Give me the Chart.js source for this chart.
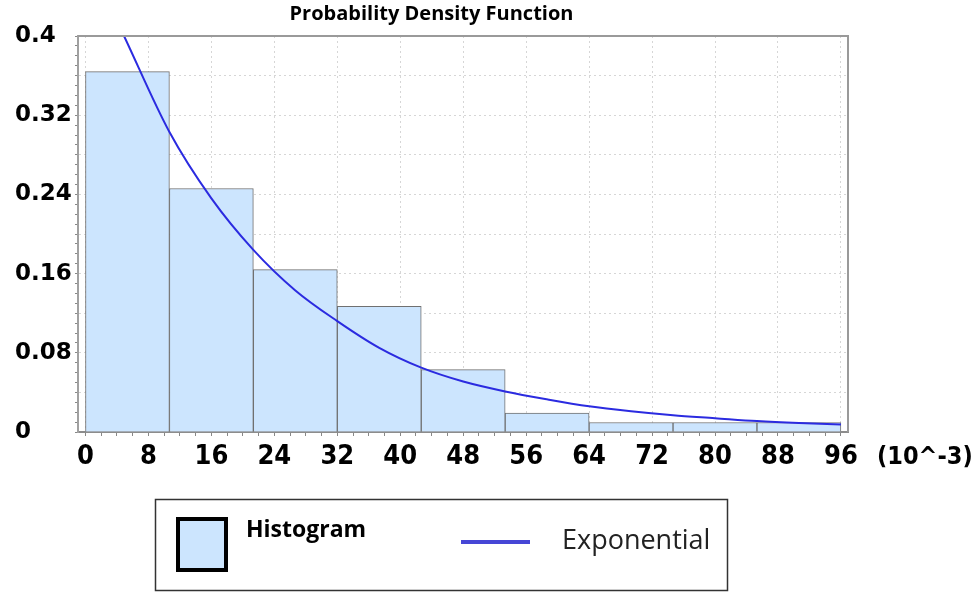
<!DOCTYPE html>
<html>
<head>
<meta charset="utf-8">
<title>Probability Density Function</title>
<script src="https://cdn.jsdelivr.net/npm/chart.js@4.4.0/dist/chart.umd.min.js"></script>
<style>
    html, body { margin: 0; padding: 0; background: #fff; }
    canvas { display: block; }
</style>
</head>
<body>
<canvas id="pdfChart" width="977" height="592"></canvas>
<script>
// histogram bins, x in units of 10^-3
var binEdges = [0, 10.67, 21.33, 32, 42.67, 53.33, 64, 74.67, 85.33, 96];
var binDensity = [0.364, 0.246, 0.164, 0.127, 0.063, 0.019, 0.0096, 0.0096, 0.0096];

// fitted exponential density, sampled along x
var curveX = [4.9, 10.67, 16, 21.33, 26.67, 32, 37.33, 42.67, 48, 53.33, 58.67, 64, 69.33, 74.67, 80, 85.33, 90.67, 96];
var curveY = [0.400, 0.303, 0.236, 0.184, 0.143, 0.112, 0.085, 0.065, 0.051, 0.041, 0.033, 0.026, 0.021, 0.017, 0.014, 0.011, 0.009, 0.0076];

var xTickLabels = [0, 8, 16, 24, 32, 40, 48, 56, 64, 72, 80, 88, 96];
var yTickLabels = [0, 0.08, 0.16, 0.24, 0.32, 0.4];
var xUnitLabel = '(10^-3)';

var histColor = '#cce5fe';
var curveColor = '#2b2be0';
var condensedFont = '"DejaVu Sans Condensed", "Liberation Sans Narrow", "DejaVu Sans"';

function isXLabel(v) {
    return xTickLabels.indexOf(v) >= 0;
}
function isYLabel(v) {
    return yTickLabels.some(function(t) { return Math.abs(t - v) < 1e-6 });
}
function isYGrid(v) {
    return Math.round(v * 100) % 4 === 0;
}

var histData = binDensity.map(function(d, i) {
    return { x: (binEdges[i] + binEdges[i + 1]) / 2, y: d };
});
var curveData = curveX.map(function(x, i) {
    return { x: x, y: curveY[i] };
});

// frame, unit label and the boxed legend under the plot
var extrasPlugin = {
    id: 'extras',
    afterDraw: function(chart) {
        var ctx = chart.ctx;
        var area = chart.chartArea;
        var xScale = chart.scales.x;
        ctx.save();

        ctx.strokeStyle = '#9a9a9a';
        ctx.lineWidth = 2;
        ctx.beginPath();
        ctx.moveTo(area.left, area.top);
        ctx.lineTo(area.right, area.top);
        ctx.lineTo(area.right, area.bottom);
        ctx.stroke();

        ctx.fillStyle = '#000';
        ctx.font = 'bold 25px ' + condensedFont;
        ctx.textAlign = 'left';
        ctx.textBaseline = 'middle';
        ctx.fillText(xUnitLabel, area.right + 29, xScale.top + 25);

        // legend box
        ctx.strokeStyle = '#333';
        ctx.lineWidth = 1.5;
        ctx.strokeRect(155.5, 499.5, 572, 91);

        var ds = chart.data.datasets;
        ctx.fillStyle = histColor;
        ctx.fillRect(178, 519, 48, 51);
        ctx.strokeStyle = '#000';
        ctx.lineWidth = 4;
        ctx.strokeRect(178, 519, 48, 51);
        ctx.fillStyle = '#000';
        ctx.font = 'bold 23px "Open Sans"';
        ctx.fillText(ds[1].label, 246, 530);

        ctx.strokeStyle = '#4646d6';
        ctx.lineWidth = 4;
        ctx.beginPath();
        ctx.moveTo(461, 542);
        ctx.lineTo(530, 542);
        ctx.stroke();
        ctx.fillStyle = '#222';
        ctx.font = '27px "Open Sans"';
        ctx.fillText(ds[0].label, 562, 541);

        ctx.restore();
    }
};

var pdfChart = new Chart(document.getElementById('pdfChart'), {
    type: 'bar',
    data: {
        datasets: [{
            type: 'line',
            label: 'Exponential',
            data: curveData,
            borderColor: curveColor,
            borderWidth: 2,
            pointRadius: 0,
            fill: false,
            cubicInterpolationMode: 'monotone',
            order: 0
        }, {
            type: 'bar',
            label: 'Histogram',
            data: histData,
            backgroundColor: histColor,
            borderColor: '#707070',
            borderWidth: 1,
            // width from neighbouring bin centres, so each bar fills its bin
            barThickness: 'flex',
            barPercentage: 1,
            categoryPercentage: 1,
            order: 1
        }]
    },
    options: {
        responsive: false,
        animation: false,
        layout: {
            padding: { left: 15, right: 129, top: 0, bottom: 110 }
        },
        plugins: {
            legend: { display: false },
            tooltip: { enabled: false },
            title: {
                display: true,
                text: 'Probability Density Function',
                color: '#000',
                font: { family: '"Open Sans"', size: 20, weight: 'bold' },
                padding: { top: 2, bottom: 10 }
            }
        },
        scales: {
            x: {
                type: 'linear',
                min: -0.95,
                max: 96.9,
                offset: false,
                afterBuildTicks: function(scale) {
                    var t = [];
                    for (var v = 0; v <= 96; v += 2) t.push({ value: v });
                    scale.ticks = t;
                },
                afterFit: function(scale) { scale.height = 50 },
                grid: {
                    offset: false,
                    color: function(c) { return c.tick && isXLabel(c.tick.value) ? '#d6d6d6' : 'rgba(0,0,0,0)' },
                    tickColor: '#888',
                    tickLength: 4
                },
                border: { color: '#8c8c8c', width: 2, dash: [2, 3] },
                ticks: {
                    autoSkip: false,
                    maxRotation: 0,
                    padding: 5,
                    color: '#000',
                    font: { family: condensedFont, size: 27, weight: 'bold' },
                    callback: function(v) { return isXLabel(v) ? String(v) : '' }
                }
            },
            y: {
                min: 0,
                max: 0.4,
                afterBuildTicks: function(scale) {
                    var t = [];
                    for (var i = 0; i <= 40; i++) t.push({ value: i / 100 });
                    scale.ticks = t;
                },
                afterFit: function(scale) { scale.width = 63 },
                grid: {
                    color: function(c) { return c.tick && isYGrid(c.tick.value) && c.tick.value > 0 ? '#d6d6d6' : 'rgba(0,0,0,0)' },
                    tickColor: '#888',
                    tickLength: 3
                },
                border: { color: '#a0a0a0', width: 2, dash: [2, 3] },
                ticks: {
                    autoSkip: false,
                    crossAlign: 'far',
                    color: '#000',
                    font: { family: '"DejaVu Sans"', size: 23, weight: 'bold' },
                    callback: function(v) { return isYLabel(v) ? String(+v.toFixed(2)) : '' }
                }
            }
        }
    },
    plugins: [extrasPlugin]
});
</script>
</body>
</html>
